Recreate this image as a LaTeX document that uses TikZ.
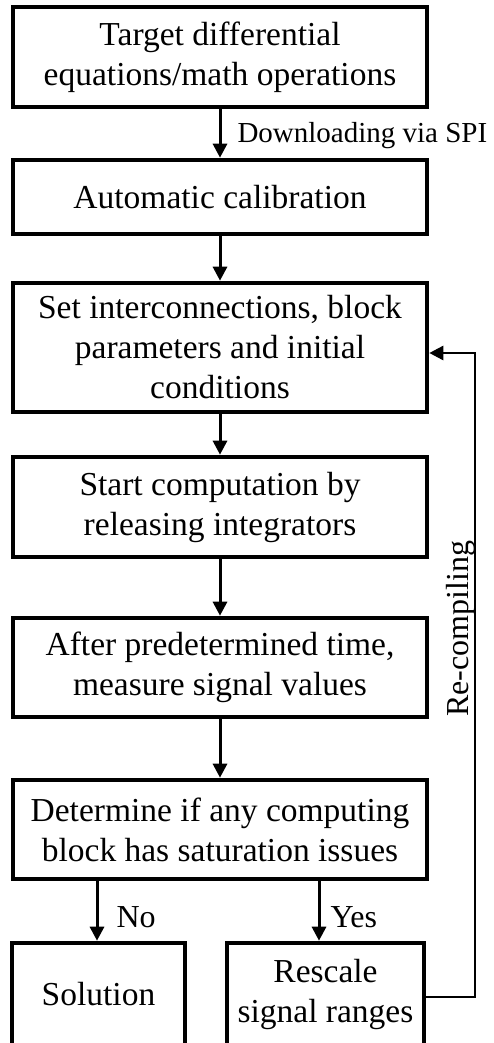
\documentclass[tikz,border=0pt]{standalone}
\usepackage{fontspec}
\setmainfont{Liberation Serif}
\usetikzlibrary{arrows.meta}
\begin{document}
\begin{tikzpicture}[x=1pt,y=-1pt,
  box/.style={draw, line width=4.6pt, inner sep=0pt, align=center,
    font=\fontsize{33.5}{40}\selectfont},
  wide/.style={minimum width=414pt},
  flow/.style={line width=3pt, -{Triangle[length=14pt,width=14pt]}},
  back/.style={line width=2.6pt, -{Triangle[length=14pt,width=14pt]}},
  lbl/.style={font=\fontsize{29}{34}\selectfont, inner sep=0pt},
  ans/.style={font=\fontsize{32}{38}\selectfont, inner sep=0pt}]
\clip (0,0) rectangle (493,1043);

% main column of steps
\node[box, wide, minimum height=100pt] (target) at (220,57)
  {Target differential\\equations/math operations};
\node[box, wide, minimum height=74pt] (calib) at (220,197)
  {Automatic calibration};
\node[box, wide, minimum height=129pt] (setup) at (220,347.5)
  {Set interconnections, block\\parameters and initial\\conditions};
\node[box, wide, minimum height=100pt] (start) at (220,507)
  {Start computation by\\releasing integrators};
\node[box, wide, minimum height=99pt] (measure) at (220,667.5)
  {After predetermined time,\\measure signal values};
\node[box, wide, minimum height=99pt] (check) at (220,829.5)
  {Determine if any computing\\block has saturation issues};

% outcomes
\node[box, minimum width=173pt, minimum height=102pt] (solution) at (98.5,994)
  {Solution};
\node[box, minimum width=197pt, minimum height=102pt] (rescale) at (325.5,994)
  {Rescale\\signal ranges};

% connectors
\draw[flow] (target) -- node[lbl, right=16pt, yshift=-2pt] {Downloading via SPI} (calib);
\draw[flow] (calib) -- (setup);
\draw[flow] (setup) -- (start);
\draw[flow] (start) -- (measure);
\draw[flow] (measure) -- (check);

\coordinate (nox) at (97,0);
\coordinate (yesx) at (319,0);
\coordinate (loopx) at (475,0);
\draw[flow] (nox |- check.south) -- node[ans, right=18pt, yshift=-6pt] {No} (nox |- solution.north);
\draw[flow] (yesx |- check.south) -- node[ans, right=10pt, yshift=-6pt] {Yes} (yesx |- rescale.north);

% feedback loop back to the set-up step
\draw[back] ([yshift=-3pt]rescale.east) -- ([yshift=-3pt]rescale.east -| loopx)
  |- ([yshift=-5.5pt]setup.east);
\node[ans, rotate=90] (recomp) at (461,629) {Re-compiling};
\end{tikzpicture}
\end{document}
